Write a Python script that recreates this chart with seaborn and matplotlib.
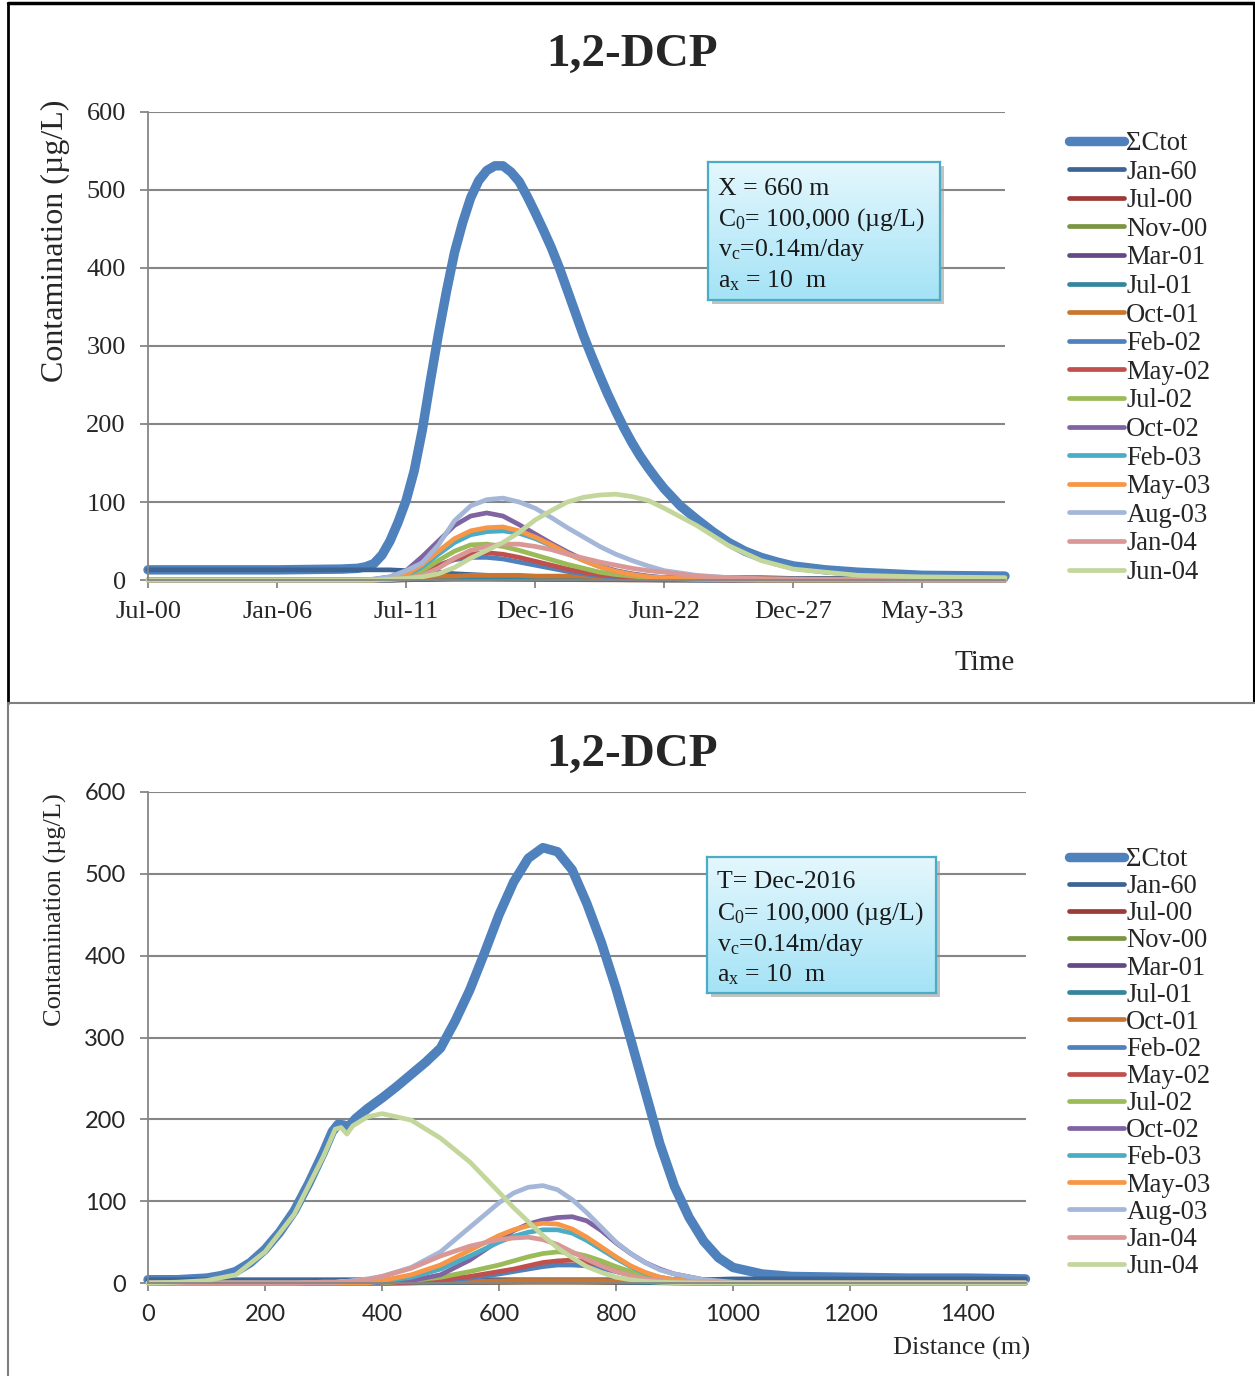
import matplotlib
matplotlib.use("Agg")
import matplotlib.pyplot as plt
import matplotlib.patches as patches
from matplotlib.lines import Line2D
from matplotlib.colors import LinearSegmentedColormap
import numpy as np
import pandas as pd
import seaborn as sns


sns.set_theme(style="white")
plt.rcParams["font.family"] = ["Liberation Serif", "DejaVu Serif"]
plt.rcParams["mathtext.fontset"] = "custom"
plt.rcParams["mathtext.rm"] = "Liberation Serif"
plt.rcParams["mathtext.it"] = "Liberation Serif:italic"

W, H = 1255, 1376

# ---- series names / colours ----
LABELS = ["ΣCtot", "Jan-60", "Jul-00", "Nov-00", "Mar-01", "Jul-01", "Oct-01",
          "Feb-02", "May-02", "Jul-02", "Oct-02", "Feb-03", "May-03",
          "Aug-03", "Jan-04", "Jun-04"]
COLORS = ["#4F81BD", "#3C6494", "#9C3B38", "#7A9640", "#634A86", "#35869D",
          "#CB7630", "#4F81BD", "#C0504D", "#9BBB59", "#8064A2", "#4BACC6",
          "#F79646", "#A5B7D8", "#D99795", "#C3D69B"]

# ---- top chart: concentration vs time at X = 660 m (days since Jul-00) ----
t_days = [0, 1000, 2000, 3000, 3250, 3500, 3750, 4000, 4250, 4500, 4750, 5000,
          5250, 5500, 5750, 6000, 6250, 6500, 6750, 7000, 7250, 7500, 7750,
          8000, 8500, 9000, 9500, 10000, 11000, 12000, 13280]
t_ticks = [0, 2000, 4000, 6000, 8000, 10000, 12000]
t_tick_labels = ["Jul-00", "Jan-06", "Jul-11", "Dec-16", "Jun-22", "Dec-27", "May-33"]

# the total curve is read on a finer grid of its own
t_sum_days = [0, 1000, 2000, 3000, 3250, 3375, 3500, 3625, 3750, 3875, 4000, 4125,
              4250, 4375, 4500, 4625, 4750, 4875, 5000, 5125, 5250, 5375, 5500,
              5625, 5750, 5875, 6000, 6125, 6250, 6375, 6500, 6625, 6750, 6875,
              7000, 7125, 7250, 7375, 7500, 7625, 7750, 7875, 8000, 8250, 8500,
              8750, 9000, 9250, 9500, 9750, 10000, 10500, 11000, 12000, 13280]
t_sum = [13, 13, 13, 14, 15, 17, 21, 32, 50, 74, 102, 140, 192, 255, 315, 370, 420,
         458, 490, 512, 525, 531, 531, 523, 511, 492, 471, 449, 426, 400, 371, 342,
         313, 287, 262, 238, 216, 195, 176, 159, 144, 130, 117, 95, 78, 62, 48, 37,
         29, 23, 18, 13, 10, 6, 5]
t_jan60 = [13, 13, 13, 13, 13, 13, 13, 12, 11, 10, 8, 7, 6, 5, 5, 4, 4, 4, 3, 3,
           3, 3, 3, 3, 3, 3, 3, 2, 2, 2, 2]
t_jul00 = [0, 0, 0, 0, 0, 0, 0, 0.3, 0.6, 0.8, 1, 1, 1, 0.9, 0.8, 0.7, 0.6, 0.5,
           0.4, 0.3, 0.3, 0.2, 0.2, 0.1, 0.1, 0.1, 0, 0, 0, 0, 0]
t_nov00 = [0, 0, 0, 0, 0, 0, 0, 0.4, 0.8, 1.2, 1.5, 1.6, 1.6, 1.5, 1.3, 1.1, 1.0,
           0.8, 0.7, 0.5, 0.4, 0.3, 0.3, 0.2, 0.1, 0.1, 0, 0, 0, 0, 0]
t_mar01 = [0, 0, 0, 0, 0, 0, 0, 0.5, 1, 1.5, 2, 2.2, 2.2, 2, 1.8, 1.5, 1.3, 1.1,
           0.9, 0.7, 0.5, 0.4, 0.3, 0.2, 0.1, 0.1, 0, 0, 0, 0, 0]
t_jul01 = [0, 0, 0, 0, 0, 0, 0, 0.6, 1.2, 1.8, 2.4, 2.6, 2.6, 2.4, 2.1, 1.8, 1.5,
           1.2, 1, 0.8, 0.6, 0.5, 0.4, 0.3, 0.2, 0.1, 0, 0, 0, 0, 0]
t_oct01 = [0, 0, 0, 0, 0, 0, 1, 3, 4, 5, 5, 6, 6, 6, 6, 5, 5, 5, 5, 4, 4, 4, 4, 3,
           3, 2, 2, 1, 1, 0, 0]
t_feb02 = [0, 0, 0, 0, 0, 0, 1, 4, 10, 19, 26, 29, 29, 27, 23, 19, 15, 11, 8, 5,
           4, 2, 1, 1, 0, 0, 0, 0, 0, 0, 0]
t_may02 = [0, 0, 0, 0, 0, 0, 1, 3, 9, 18, 27, 33, 35, 33, 29, 24, 19, 14, 10, 7,
           5, 3, 2, 1, 0.5, 0, 0, 0, 0, 0, 0]
t_jul02 = [0, 0, 0, 0, 0, 0, 1, 4, 12, 25, 37, 45, 46, 43, 38, 32, 26, 20, 15, 10,
           7, 5, 3, 2, 1, 0.5, 0, 0, 0, 0, 0]
t_oct02 = [0, 0, 0, 0, 0, 1, 4, 12, 30, 50, 70, 82, 86, 82, 71, 59, 47, 36, 26, 18,
           12, 8, 5, 3, 1, 0.5, 0, 0, 0, 0, 0]
t_feb03 = [0, 0, 0, 0, 0, 0, 2, 6, 17, 33, 48, 58, 62, 63, 60, 53, 44, 34, 25, 17,
           11, 7, 4, 3, 1, 0.5, 0, 0, 0, 0, 0]
t_may03 = [0, 0, 0, 0, 0, 0, 2, 7, 20, 37, 53, 63, 67, 68, 63, 55, 45, 34, 25, 17,
           11, 7, 4, 3, 1, 0.5, 0, 0, 0, 0, 0]
t_aug03 = [0, 0, 0, 0, 0, 1, 4, 12, 22, 45, 76, 95, 103, 105, 100, 92, 80, 67, 55,
           43, 33, 25, 18, 12, 6, 3, 1, 1, 0.3, 0, 0]
t_jan04 = [0, 0, 0, 0, 0, 0, 1, 2, 6, 15, 28, 38, 43, 46, 46, 43, 39, 33, 28, 23,
           19, 15, 12, 10, 5, 3, 1.5, 1, 0.5, 0, 0]
t_jun04 = [0, 0, 0, 0, 0, 0, 1, 2, 4, 8, 16, 28, 38, 48, 61, 77, 89, 100, 106, 109,
           110, 107, 102, 92, 70, 44, 25, 14, 6, 4, 3]

# ---- bottom chart: concentration vs distance at T = Dec-2016 ----
d_dist = [0, 50, 100, 150, 200, 250, 300, 320, 330, 340, 350, 375, 400, 450, 500,
          550, 600, 625, 650, 675, 700, 725, 750, 775, 800, 825, 850, 875, 900,
          950, 1000, 1050, 1100, 1200, 1300, 1400, 1500]
d_ticks = [0, 200, 400, 600, 800, 1000, 1200, 1400]

d_sum_dist = [0, 50, 100, 125, 150, 175, 200, 225, 250, 275, 300, 315, 325, 335,
              340, 345, 355, 375, 400, 425, 450, 475, 500, 525, 550, 575, 600, 625,
              650, 675, 700, 725, 750, 775, 800, 825, 850, 875, 900, 925, 950, 975,
              1000, 1050, 1100, 1200, 1300, 1400, 1500]
d_sum = [4, 4, 6, 9, 14, 25, 41, 62, 88, 122, 160, 185, 194, 193, 189, 193, 201,
         213, 226, 240, 255, 270, 287, 320, 358, 403, 450, 490, 519, 532, 527, 505,
         464, 416, 360, 298, 234, 170, 118, 80, 51, 31, 19, 11, 8, 7, 6, 6, 5]
d_jan60 = [4, 4, 4, 4, 4, 4, 4, 4, 4, 4, 4, 4, 4, 4, 4, 4, 4, 4, 4, 4, 4, 4, 4, 4,
           4, 4, 4, 4, 4, 4, 5, 5, 5, 5, 5, 5, 5]
d_jul00 = [0, 0, 0, 0, 0, 0, 0, 0, 0, 0, 0, 0, 0, 0.2, 0.4, 0.6, 0.8, 0.9, 1, 1, 1,
           1, 0.9, 0.8, 0.6, 0.5, 0.4, 0.3, 0.2, 0.1, 0, 0, 0, 0, 0, 0, 0]
d_nov00 = [0, 0, 0, 0, 0, 0, 0, 0, 0, 0, 0, 0, 0, 0.3, 0.6, 0.9, 1.1, 1.2, 1.3, 1.4,
           1.4, 1.4, 1.3, 1.1, 0.9, 0.7, 0.5, 0.4, 0.3, 0.1, 0, 0, 0, 0, 0, 0, 0]
d_mar01 = [0, 0, 0, 0, 0, 0, 0, 0, 0, 0, 0, 0, 0, 0.3, 0.7, 1.1, 1.4, 1.6, 1.7, 1.8,
           1.8, 1.8, 1.7, 1.5, 1.2, 0.9, 0.7, 0.5, 0.3, 0.1, 0, 0, 0, 0, 0, 0, 0]
d_jul01 = [0, 0, 0, 0, 0, 0, 0, 0, 0, 0, 0, 0, 0, 0.4, 0.9, 1.4, 1.8, 2, 2.2, 2.3,
           2.3, 2.3, 2.1, 1.8, 1.5, 1.1, 0.8, 0.6, 0.4, 0.1, 0, 0, 0, 0, 0, 0, 0]
d_oct01 = [0, 0, 0, 0, 0, 0, 0, 0, 0, 0, 0, 0, 0.5, 1, 1.5, 2, 2.5, 3, 3, 3, 3, 3,
           3, 3, 2.5, 2, 2, 1.5, 1.5, 1, 0.5, 0, 0, 0, 0, 0, 0]
d_feb02 = [0, 0, 0, 0, 0, 0, 0, 0, 0, 0, 0, 0, 0, 1, 3, 6, 11, 14, 17, 20, 22, 22,
           21, 18, 14, 10, 7, 4, 2, 1, 0, 0, 0, 0, 0, 0, 0]
d_may02 = [0, 0, 0, 0, 0, 0, 0, 0, 0, 0, 0, 0, 0, 1, 4, 8, 14, 17, 21, 25, 27, 28,
           26, 22, 17, 12, 8, 5, 3, 1, 0, 0, 0, 0, 0, 0, 0]
d_jul02 = [0, 0, 0, 0, 0, 0, 0, 0, 0, 0, 0, 0, 0, 3, 7, 14, 22, 27, 32, 36, 38, 37,
           33, 27, 20, 14, 9, 5, 3, 1, 0, 0, 0, 0, 0, 0, 0]
d_oct02 = [0, 0, 0, 0, 0, 0, 0, 0, 0, 0, 0, 0, 1, 3, 10, 28, 52, 64, 72, 77, 80, 81,
           76, 64, 49, 36, 25, 17, 11, 4, 1, 0, 0, 0, 0, 0, 0]
d_feb03 = [0, 0, 0, 0, 0, 0, 0, 0, 0, 0, 0, 0, 2, 7, 17, 33, 50, 57, 62, 65, 65, 61,
           52, 41, 30, 20, 12, 7, 4, 1, 0, 0, 0, 0, 0, 0, 0]
d_may03 = [0, 0, 0, 0, 0, 0, 0, 0, 0, 0, 0, 0, 3, 10, 22, 40, 58, 65, 70, 73, 72, 66,
           56, 44, 32, 21, 13, 7, 4, 1, 0, 0, 0, 0, 0, 0, 0]
d_aug03 = [0, 0, 0, 0, 0, 0, 1, 1, 2, 2, 3, 5, 8, 19, 38, 68, 98, 110, 117, 119, 114,
           102, 86, 68, 50, 36, 25, 16, 11, 4, 1, 0, 0, 0, 0, 0, 0]
d_jan04 = [0, 0, 0, 0, 0, 0, 1, 1, 1, 2, 2, 4, 8, 18, 33, 45, 53, 55, 56, 53, 47, 38,
           29, 21, 14, 9, 5, 3, 2, 1, 0, 0, 0, 0, 0, 0, 0]
d_jun04 = [0, 1, 3, 10, 38, 84, 155, 188, 190, 182, 192, 203, 207, 199, 177, 148, 111,
           92, 75, 58, 43, 31, 20, 13, 7, 4, 2, 1, 0.5, 0, 0, 0, 0, 0, 0, 0, 0]

top_series = [t_sum, t_jan60, t_jul00, t_nov00, t_mar01, t_jul01, t_oct01, t_feb02,
              t_may02, t_jul02, t_oct02, t_feb03, t_may03, t_aug03, t_jan04, t_jun04]
top_x = [t_sum_days] + [t_days] * 15
bot_series = [d_sum, d_jan60, d_jul00, d_nov00, d_mar01, d_jul01, d_oct01, d_feb02,
              d_may02, d_jul02, d_oct02, d_feb03, d_may03, d_aug03, d_jan04, d_jun04]
bot_x = [d_sum_dist] + [d_dist] * 15

GRID = "#868686"


def fx(px):
    return px / W


def fy(py):
    return 1 - py / H


def long_frame(xs, series):
    rows = []
    for label, x, values in zip(LABELS, xs, series):
        rows.append(pd.DataFrame({"x": x, "value": values, "series": label}))
    return pd.concat(rows, ignore_index=True)


def draw_lines(ax, df):
    for label, color in zip(LABELS, COLORS):
        lw = 6.8 if label == "ΣCtot" else 3.4
        sns.lineplot(data=df[df["series"] == label], x="x", y="value", ax=ax,
                     color=color, linewidth=lw, label=label, clip_on=False,
                     solid_capstyle="round", solid_joinstyle="round")


def style_axes(ax):
    ax.set_ylim(0, 600)
    ax.set_yticks(range(0, 601, 100))
    ax.set_axisbelow(True)
    ax.yaxis.grid(True, color=GRID, linewidth=1.5)
    ax.xaxis.grid(False)
    for side in ["top", "right"]:
        ax.spines[side].set_visible(False)
    for side in ["left", "bottom"]:
        ax.spines[side].set_color(GRID)
        ax.spines[side].set_linewidth(1.3)
    ax.tick_params(axis="both", which="major", direction="out", length=6,
                   width=1.3, color=GRID, left=True, bottom=True)
    ax.set_xlabel("")
    ax.set_ylabel("")


def add_legend(ax, top_px, spacing):
    ax.legend(loc="upper left", bbox_to_anchor=(fx(1069), fy(top_px)),
              bbox_transform=fig.transFigure, frameon=False, fontsize=19.2,
              handlelength=2.05, handletextpad=0.1, labelspacing=spacing,
              borderpad=0, borderaxespad=0)


def info_box(x0, y0, x1, y1, lines, y_lines):
    shadow = patches.Rectangle((fx(x0 + 4), fy(y1 + 4)), fx(x1) - fx(x0),
                               fy(y0) - fy(y1), transform=fig.transFigure,
                               facecolor="#9a9a9a", edgecolor="none", alpha=0.6,
                               zorder=4)
    fig.add_artist(shadow)
    bax = fig.add_axes([fx(x0), fy(y1), fx(x1) - fx(x0), fy(y0) - fy(y1)], zorder=5)
    cmap = LinearSegmentedColormap.from_list("box", ["#E4F7FD", "#A4E3F6"])
    bax.imshow(np.linspace(0, 1, 64).reshape(-1, 1), cmap=cmap, aspect="auto",
               extent=(0, 1, 0, 1))
    bax.set_xticks([])
    bax.set_yticks([])
    for sp in bax.spines.values():
        sp.set_color("#4BACC6")
        sp.set_linewidth(1.6)
    for text, yy in zip(lines, y_lines):
        bax.text(fx(x0 + 10), fy(yy), text, transform=fig.transFigure,
                 ha="left", va="center", fontsize=18.5, color="#1a1a1a")


fig = plt.figure(figsize=(W / 100, H / 100), dpi=100)
fig.patch.set_facecolor("white")

# ---- top panel ----
ax1 = fig.add_axes([fx(148), fy(580), fx(1005) - fx(148), fy(112) - fy(580)])
draw_lines(ax1, long_frame(top_x, top_series))
style_axes(ax1)
ax1.set_xlim(0, 13280)
ax1.set_xticks(t_ticks, labels=t_tick_labels, fontsize=19)
ax1.tick_params(axis="x", pad=9)
ax1.tick_params(axis="y", labelsize=19, pad=10)
add_legend(ax1, 131, 0.135)

fig.text(fx(632), fy(55), "1,2-DCP", ha="center", va="center", fontsize=34,
         fontweight="bold")
fig.text(fx(55), fy(241), "Contamination (µg/L)", rotation=90, ha="center",
         va="center", fontsize=23)
fig.text(fx(985), fy(663), "Time", ha="center", va="center", fontsize=21)

info_box(708, 162, 940, 300,
         ["X = 660 m", "C$_\\mathrm{0}$= 100,000 (µg/L)",
          "v$_\\mathrm{c}$=0.14m/day", "a$_\\mathrm{x}$ = 10  m"],
         [189, 220, 250, 281])

# ---- bottom panel ----
ax2 = fig.add_axes([fx(148), fy(1283), fx(1025.5) - fx(148), fy(792) - fy(1283)])
draw_lines(ax2, long_frame(bot_x, bot_series))
style_axes(ax2)
ax2.set_xlim(0, 1500)
ax2.set_xticks(d_ticks, labels=[str(v) for v in d_ticks], fontsize=17,
               fontfamily="Lato")
ax2.set_yticks(range(0, 601, 100), labels=[str(v) for v in range(0, 601, 100)],
               fontsize=17, fontfamily="Lato")
ax2.tick_params(axis="x", pad=9)
ax2.tick_params(axis="y", pad=10)
add_legend(ax2, 847, 0.08)

fig.text(fx(632), fy(755), "1,2-DCP", ha="center", va="center", fontsize=34,
         fontweight="bold")
fig.text(fx(55), fy(910), "Contamination (µg/L)", rotation=90, ha="center",
         va="center", fontsize=19)
fig.text(fx(962), fy(1348), "Distance (m)", ha="center", va="center", fontsize=19)

info_box(707, 857, 936, 993,
         ["T= Dec-2016", "C$_\\mathrm{0}$= 100,000 (µg/L)",
          "v$_\\mathrm{c}$=0.14m/day", "a$_\\mathrm{x}$ = 10  m"],
         [882, 914, 945, 975])

# ---- panel frames ----
fig.add_artist(Line2D([fx(8), fx(1254)], [fy(3), fy(3)], transform=fig.transFigure,
                      color="black", linewidth=2.5))
fig.add_artist(Line2D([fx(8), fx(8)], [fy(3), fy(703)], transform=fig.transFigure,
                      color="black", linewidth=2))
fig.add_artist(Line2D([fx(1253.5), fx(1253.5)], [fy(3), fy(703)],
                      transform=fig.transFigure, color="black", linewidth=1.5))
fig.add_artist(Line2D([fx(8), fx(1255)], [fy(703), fy(703)],
                      transform=fig.transFigure, color="#7f7f7f", linewidth=1.5))
fig.add_artist(Line2D([fx(8), fx(8)], [fy(703), fy(1376)],
                      transform=fig.transFigure, color="#7f7f7f", linewidth=1.5))

fig.savefig("out.png", dpi=100)
